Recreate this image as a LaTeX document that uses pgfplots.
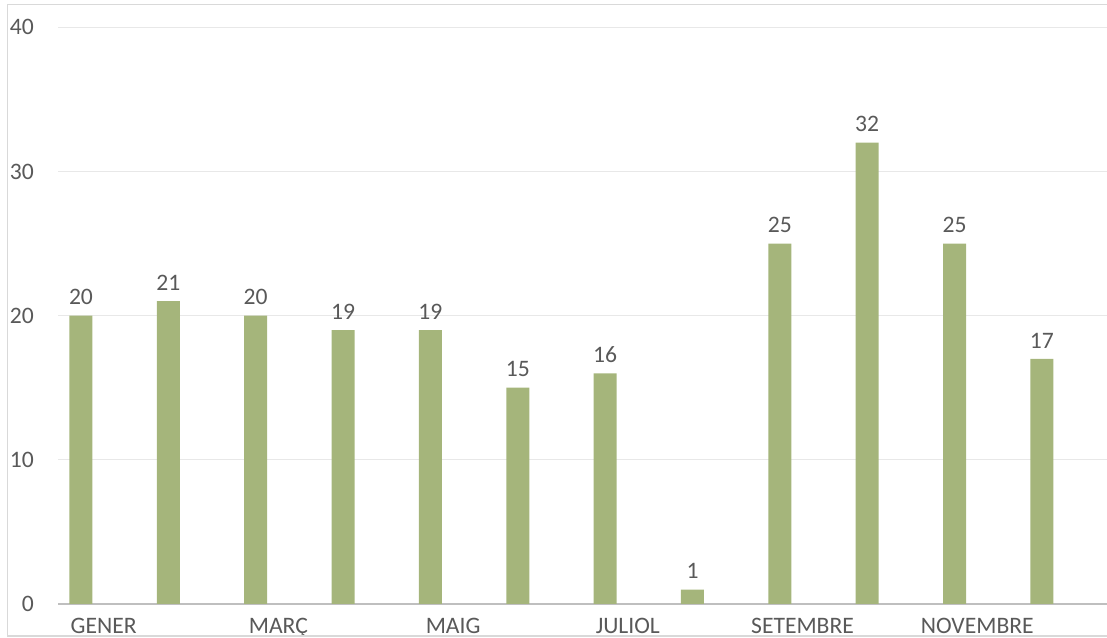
\documentclass[border=0pt]{standalone}
\usepackage{fontspec}
\setmainfont{Carlito}
\usepackage{pgfplots}
\pgfplotsset{compat=1.18}

\definecolor{barcol}{RGB}{165,181,123}
\definecolor{txt}{RGB}{89,89,89}
\definecolor{gridc}{RGB}{232,232,232}
\definecolor{axc}{RGB}{191,191,191}
\definecolor{frame}{RGB}{217,217,217}

\begin{document}
\begin{tikzpicture}
\begin{axis}[
  at={(58bp,34bp)}, anchor=south west,
  scale only axis,
  width=1049bp, height=576.7bp,
  xmin=-0.263, xmax=11.745,
  ymin=0, ymax=40,
  axis x line*=bottom, axis y line*=left,
  x axis line style={draw=axc, line width=2bp, -},
  y axis line style={draw=none},
  major tick length=0pt,
  ytick={0,10,20,30,40},
  ymajorgrids,
  grid style={draw=gridc, line width=1.3bp},
  xtick={0.26,2.26,4.26,6.26,8.26,10.26},
  xticklabels={GENER,MARÇ,MAIG,JULIOL,SETEMBRE,NOVEMBRE},
  ticklabel style={font=\fontsize{23.6bp}{28bp}\selectfont, text=txt, inner sep=0pt},
  xticklabel style={anchor=north, yshift=-14bp},
  yticklabel style={anchor=east, xshift=-24bp},
  /pgf/number format/assume math mode=true,
  ybar, bar width=23bp,
  nodes near coords,
  every node near coord/.append style={font=\fontsize{23.6bp}{28bp}\selectfont, text=txt, inner sep=0pt, anchor=south, yshift=10.5bp},
  clip=false,
]
\addplot[fill=barcol, draw=none] coordinates {
  (0,20) (1,21) (2,20) (3,19) (4,19) (5,15)
  (6,16) (7,1) (8,25) (9,32) (10,25) (11,17)
};
\end{axis}
\draw[frame, line width=1.3bp] (1107bp,633.7bp) -- (7.3bp,633.7bp) -- (7.3bp,2bp) -- (1107bp,2bp);
\pgfresetboundingbox
\path[use as bounding box] (0,0) rectangle (1107bp,638bp);
\end{tikzpicture}
\end{document}
